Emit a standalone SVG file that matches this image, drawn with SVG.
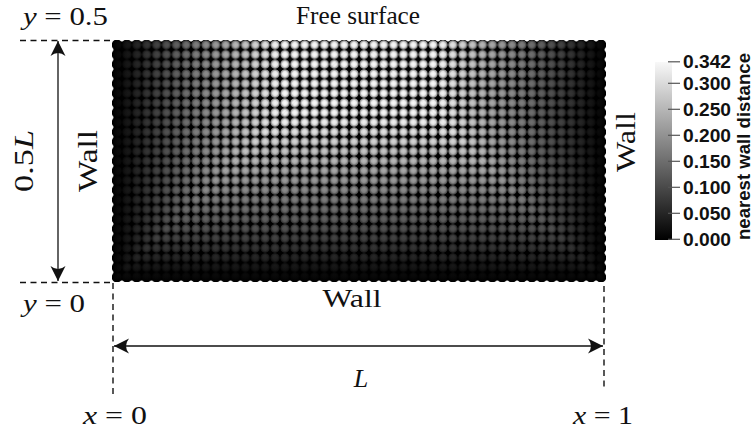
<svg xmlns="http://www.w3.org/2000/svg" width="756" height="438" viewBox="0 0 756 438">
<style>
.lbl{font-family:"Liberation Serif","Times New Roman",serif;font-size:26px;fill:#111}
.big{font-size:28px}
.it{font-style:italic}
.dash{stroke:#111;stroke-width:1.4;stroke-dasharray:6 4.5;fill:none}
.arr{stroke:#111;stroke-width:1.3;fill:none;marker-start:url(#ah);marker-end:url(#ah)}
.tick{stroke:#555;stroke-width:1.2}
.cb{font-family:"Liberation Sans",Arial,sans-serif;font-weight:bold;font-size:18.5px;fill:#111}
</style>
<defs>
<marker id="ah" viewBox="-15 -8 17 16" refX="0" refY="0" markerWidth="17" markerHeight="16" markerUnits="userSpaceOnUse" orient="auto-start-reverse">
<path d="M0,0 L-15,-7.5 Q-9,0 -15,7.5 Z" fill="#111"/>
</marker>
<radialGradient id="dotg">
<stop offset="0" stop-color="#fff"/>
<stop offset="0.5" stop-color="#e8e8e8"/>
<stop offset="0.85" stop-color="#b5b5b5" stop-opacity="0.75"/>
<stop offset="1" stop-color="#888" stop-opacity="0"/>
</radialGradient>
<pattern id="dots" patternUnits="userSpaceOnUse" x="112" y="40" width="9.88" height="9.68">
<circle cx="4.94" cy="4.84" r="5" fill="url(#dotg)"/>
</pattern>
<pattern id="edge" patternUnits="userSpaceOnUse" x="112" y="40" width="9.88" height="9.68">
<circle cx="4.94" cy="4.84" r="5.3" fill="#000"/>
</pattern>
<linearGradient id="gl" gradientUnits="userSpaceOnUse" x1="112" y1="0" x2="281" y2="0">
<stop offset="0" stop-color="#000"/><stop offset="1" stop-color="#fff"/>
</linearGradient>
<linearGradient id="gr" gradientUnits="userSpaceOnUse" x1="606" y1="0" x2="437" y2="0">
<stop offset="0" stop-color="#000"/><stop offset="1" stop-color="#fff"/>
</linearGradient>
<linearGradient id="gb" gradientUnits="userSpaceOnUse" x1="0" y1="282" x2="0" y2="116.5">
<stop offset="0" stop-color="#000"/><stop offset="1" stop-color="#fff"/>
</linearGradient>
<mask id="wd" maskUnits="userSpaceOnUse" x="100" y="30" width="520" height="265">
<polygon points="112,282 606,282 359,40" fill="url(#gb)" stroke="url(#gb)" stroke-width="1"/>
<polygon points="112,282 112,40 359,40" fill="url(#gl)" stroke="url(#gl)" stroke-width="1"/>
<polygon points="606,282 606,40 359,40" fill="url(#gr)" stroke="url(#gr)" stroke-width="1"/>
</mask>
<linearGradient id="cbg" x1="0" y1="1" x2="0" y2="0">
<stop offset="0" stop-color="#000"/><stop offset="1" stop-color="#f8f8f8"/>
</linearGradient>
</defs>

<g id="particles">
<rect x="112" y="40" width="494" height="242" fill="url(#edge)"/>
<rect x="113.5" y="41.5" width="491" height="239" fill="#000"/>
<rect x="112" y="40" width="494" height="242" fill="url(#dots)" mask="url(#wd)"/>
</g>

<g id="connectors">
<line class="dash" x1="20" y1="40.5" x2="112" y2="40.5"/>
<line class="dash" x1="20" y1="282.5" x2="112" y2="282.5"/>
<line class="dash" x1="113" y1="283" x2="113" y2="395"/>
<line class="dash" x1="604" y1="286" x2="604" y2="391"/>
<line class="arr" x1="58" y1="41" x2="58" y2="281"/>
<line class="arr" x1="114" y1="346" x2="603" y2="346"/>
</g>

<g id="labels">
<text class="lbl" x="23" y="25" textLength="85" lengthAdjust="spacingAndGlyphs"><tspan class="it">y</tspan> = 0.5</text>
<text class="lbl" x="358" y="24" text-anchor="middle" textLength="124" lengthAdjust="spacingAndGlyphs">Free surface</text>
<text class="lbl" x="23" y="312" textLength="62" lengthAdjust="spacingAndGlyphs"><tspan class="it">y</tspan> = 0</text>
<text class="lbl" x="352" y="307" text-anchor="middle" textLength="59" lengthAdjust="spacingAndGlyphs">Wall</text>
<text class="lbl it" x="361" y="387" text-anchor="middle">L</text>
<text class="lbl" x="83" y="424" textLength="64" lengthAdjust="spacingAndGlyphs"><tspan class="it">x</tspan> = 0</text>
<text class="lbl" x="573" y="424" textLength="60" lengthAdjust="spacingAndGlyphs"><tspan class="it">x</tspan> = 1</text>
<text class="lbl big" transform="translate(33,161) rotate(-90)" text-anchor="middle" textLength="62" lengthAdjust="spacingAndGlyphs">0.5<tspan class="it">L</tspan></text>
<text class="lbl big" transform="translate(97,161) rotate(-90)" text-anchor="middle" textLength="62" lengthAdjust="spacingAndGlyphs">Wall</text>
<text class="lbl big" transform="translate(635,142) rotate(-90)" text-anchor="middle" textLength="60" lengthAdjust="spacingAndGlyphs">Wall</text>
</g>

<g id="colorbar">
<rect x="655" y="62" width="17" height="178" fill="url(#cbg)"/>
<line class="tick" x1="668" y1="61.8" x2="680" y2="61.8"/>
<line class="tick" x1="668" y1="83.3" x2="680" y2="83.3"/>
<line class="tick" x1="668" y1="109.3" x2="680" y2="109.3"/>
<line class="tick" x1="668" y1="135.3" x2="680" y2="135.3"/>
<line class="tick" x1="668" y1="161.3" x2="680" y2="161.3"/>
<line class="tick" x1="668" y1="187.3" x2="680" y2="187.3"/>
<line class="tick" x1="668" y1="213.3" x2="680" y2="213.3"/>
<line class="tick" x1="668" y1="239.3" x2="680" y2="239.3"/>
<text class="cb" x="683" y="68.3" textLength="48" lengthAdjust="spacingAndGlyphs">0.342</text>
<text class="cb" x="683" y="89.8" textLength="48" lengthAdjust="spacingAndGlyphs">0.300</text>
<text class="cb" x="683" y="115.8" textLength="48" lengthAdjust="spacingAndGlyphs">0.250</text>
<text class="cb" x="683" y="141.8" textLength="48" lengthAdjust="spacingAndGlyphs">0.200</text>
<text class="cb" x="683" y="167.8" textLength="48" lengthAdjust="spacingAndGlyphs">0.150</text>
<text class="cb" x="683" y="193.8" textLength="48" lengthAdjust="spacingAndGlyphs">0.100</text>
<text class="cb" x="683" y="219.8" textLength="48" lengthAdjust="spacingAndGlyphs">0.050</text>
<text class="cb" x="683" y="245.8" textLength="48" lengthAdjust="spacingAndGlyphs">0.000</text>
<text class="cb" transform="translate(750,240) rotate(-90)" textLength="187" lengthAdjust="spacingAndGlyphs">nearest wall distance</text>
</g>
</svg>
